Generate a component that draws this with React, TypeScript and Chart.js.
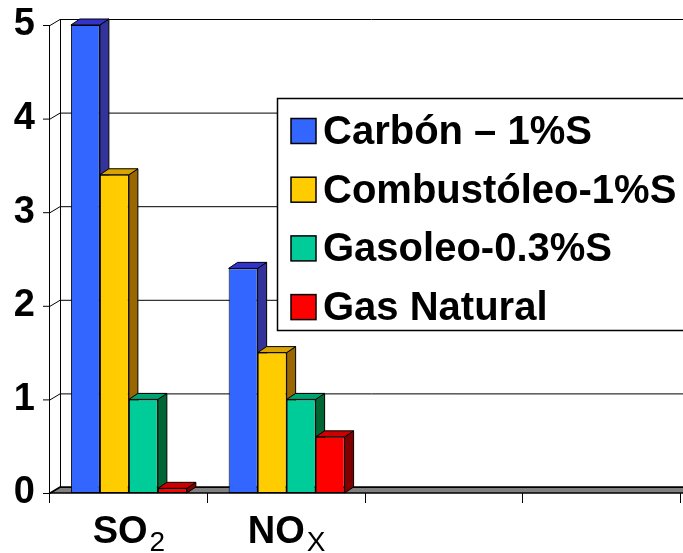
import { useEffect, useRef } from "react";
import { Chart, registerables } from "chart.js";

Chart.register(...registerables);

// Categories (pollutant name + subscript part); the last two slots are empty.
const categoryNames = ["SO", "NO", "", ""];
const categorySubs = ["2", "X", "", ""];
const categoryLabels = categoryNames.map((n, i) => n + categorySubs[i]);

const seriesNames = ["Carbón – 1%S", "Combustóleo-1%S", "Gasoleo-0.3%S", "Gas Natural"];
const carbon = [5, 2.4, null, null];
const combustoleo = [3.4, 1.5, null, null];
const gasoleo = [1, 1, null, null];
const gasNatural = [0.05, 0.6, null, null];
const seriesValues = [carbon, combustoleo, gasoleo, gasNatural];

const yTicks = [0, 1, 2, 3, 4, 5];

const frontColors = ["#3366FF", "#FFCC00", "#00CC99", "#FF0000"];
const topColors = ["#3333CC", "#D9A300", "#00A374", "#CC0000"];
const sideColors = ["#333399", "#996600", "#006633", "#800000"];

const FONT = "'Liberation Sans', Arial, sans-serif";
const WALL_DX = 10;
const WALL_DY = -6;
const BAR_DX = 9;
const BAR_DY = -6;

// Back wall, side wall, floor and axis lines of the pseudo-3D frame.
const framePlugin = {
  id: "frame3d",
  beforeDatasetsDraw(chart: any) {
    const { ctx, chartArea: a, scales } = chart;
    const y = scales.y;
    const W = chart.width;
    const y0 = y.getPixelForValue(0);
    const yTop = y.getPixelForValue(yTicks[yTicks.length - 1]);
    ctx.save();
    ctx.lineWidth = 1;
    ctx.strokeStyle = "#000";

    // floor
    ctx.fillStyle = "#808080";
    ctx.beginPath();
    ctx.moveTo(a.left, y0);
    ctx.lineTo(W + 20, y0);
    ctx.lineTo(W + 20, y0 + WALL_DY);
    ctx.lineTo(a.left + WALL_DX, y0 + WALL_DY);
    ctx.closePath();
    ctx.fill();
    ctx.lineWidth = 1.5;
    ctx.stroke();
    ctx.lineWidth = 1;

    // back wall gridlines and side wall connectors
    for (const v of yTicks) {
      const yy = y.getPixelForValue(v);
      ctx.beginPath();
      ctx.moveTo(a.left + WALL_DX, yy + WALL_DY + 0.5);
      ctx.lineTo(W, yy + WALL_DY + 0.5);
      ctx.stroke();
      ctx.beginPath();
      ctx.moveTo(a.left - 7, yy + 0.5);
      ctx.lineTo(a.left, yy + 0.5);
      ctx.lineTo(a.left + WALL_DX, yy + WALL_DY + 0.5);
      ctx.stroke();
    }
    // side wall back edge
    ctx.beginPath();
    ctx.moveTo(a.left + WALL_DX + 0.5, yTop + WALL_DY);
    ctx.lineTo(a.left + WALL_DX + 0.5, y0 + WALL_DY);
    ctx.stroke();
    // front value axis
    ctx.beginPath();
    ctx.moveTo(a.left - 0.5, yTop);
    ctx.lineTo(a.left - 0.5, y0 + 10);
    ctx.stroke();
    // category boundary ticks
    const n = categoryLabels.length;
    const cw = (a.right - a.left) / n;
    for (let k = 1; k <= n; k++) {
      const xx = Math.round(a.left + k * cw) - 0.5;
      ctx.beginPath();
      ctx.moveTo(xx, y0);
      ctx.lineTo(xx, y0 + 10);
      ctx.stroke();
    }

    // side and top faces of each bar, left to right
    const metas = chart.data.datasets.map((_: any, i: number) => chart.getDatasetMeta(i));
    for (let j = 0; j < n; j++) {
      metas.forEach((meta: any, i: number) => {
        const el = meta.data[j];
        if (!el || seriesValues[i][j] == null) return;
        const { x, y: top, base, width } = el.getProps(["x", "y", "base", "width"], true);
        const l = x - width / 2;
        const r = x + width / 2;
        ctx.strokeStyle = "#000";
        ctx.lineWidth = 1;
        // side
        ctx.fillStyle = sideColors[i];
        ctx.beginPath();
        ctx.moveTo(r, top);
        ctx.lineTo(r + BAR_DX, top + BAR_DY);
        ctx.lineTo(r + BAR_DX, base + BAR_DY);
        ctx.lineTo(r, base);
        ctx.closePath();
        ctx.fill();
        ctx.stroke();
        // top
        ctx.fillStyle = topColors[i];
        ctx.beginPath();
        ctx.moveTo(l, top);
        ctx.lineTo(l + BAR_DX, top + BAR_DY);
        ctx.lineTo(r + BAR_DX, top + BAR_DY);
        ctx.lineTo(r, top);
        ctx.closePath();
        ctx.fill();
        ctx.stroke();
      });
    }
    ctx.restore();
  },
  afterDraw(chart: any) {
    const { ctx, scales } = chart;
    const x = scales.x;
    ctx.save();
    // category labels with subscripts
    ctx.fillStyle = "#000";
    ctx.textBaseline = "alphabetic";
    const subFont = `500 28px ${FONT}`;
    categoryNames.forEach((name, j) => {
      if (!name) return;
      const cx = x.getPixelForValue(j);
      ctx.font = `bold 38px ${FONT}`;
      const w1 = ctx.measureText(name).width;
      ctx.font = subFont;
      const w2 = ctx.measureText(categorySubs[j]).width;
      const start = cx - (w1 + 2 + w2) / 2;
      ctx.font = `bold 38px ${FONT}`;
      ctx.textAlign = "left";
      ctx.fillText(name, start, 543);
      ctx.font = subFont;
      ctx.fillText(categorySubs[j], start + w1 + 2, 551);
    });

    // legend box
    const lx = 277, ly = 98, lw = 430, lh = 232;
    ctx.fillStyle = "#fff";
    ctx.fillRect(lx, ly, lw, lh);
    ctx.strokeStyle = "#000";
    ctx.lineWidth = 1.5;
    ctx.strokeRect(lx + 0.5, ly + 0.5, lw, lh);
    ctx.font = `bold 40px ${FONT}`;
    ctx.textBaseline = "middle";
    ctx.textAlign = "left";
    seriesNames.forEach((name, i) => {
      const cy = 131 + i * 58.7;
      ctx.fillStyle = frontColors[i];
      ctx.fillRect(291, cy - 12.5, 25, 25);
      ctx.lineWidth = 1.5;
      ctx.strokeStyle = "#000";
      ctx.strokeRect(291, cy - 12.5, 25, 25);
      ctx.fillStyle = "#000";
      ctx.fillText(name, 323, cy + 2);
    });
    ctx.restore();
  },
};

export default function App() {
  const ref = useRef<HTMLCanvasElement | null>(null);

  useEffect(() => {
    document.body.style.margin = "0";
    const canvas = ref.current;
    if (!canvas) return;
    const chart = new Chart(canvas, {
      type: "bar",
      data: {
        labels: categoryLabels,
        datasets: seriesValues.map((vals, i) => ({
          label: seriesNames[i],
          data: vals,
          backgroundColor: frontColors[i],
          borderColor: "#000",
          borderWidth: 1,
          borderSkipped: false,
          barPercentage: 1,
          categoryPercentage: 0.735,
        })),
      },
      options: {
        responsive: false,
        animation: false,
        devicePixelRatio: 1,
        layout: { padding: { top: 25, right: 2, left: 0, bottom: 0 } },
        plugins: { legend: { display: false }, tooltip: { enabled: false } },
        scales: {
          x: {
            grid: { display: false },
            border: { display: false },
            ticks: { display: false },
            afterFit: (s: any) => {
              s.height = 60;
            },
          },
          y: {
            min: 0,
            max: 5,
            afterBuildTicks: (s: any) => {
              s.ticks = yTicks.map((v) => ({ value: v }));
            },
            grid: { display: false, drawTicks: false },
            border: { display: false },
            ticks: {
              padding: 15,
              color: "#000",
              font: { family: FONT, size: 38, weight: "bold" },
            },
            afterFit: (s: any) => {
              s.width = 50;
              s.paddingTop = 0;
              s.paddingBottom = 0;
            },
          },
        },
      },
      plugins: [framePlugin],
    });
    return () => chart.destroy();
  }, []);

  return (
    <div style={{ width: 683, height: 553, background: "#fff" }}>
      <canvas ref={ref} width={683} height={553} style={{ display: "block" }} />
    </div>
  );
}
